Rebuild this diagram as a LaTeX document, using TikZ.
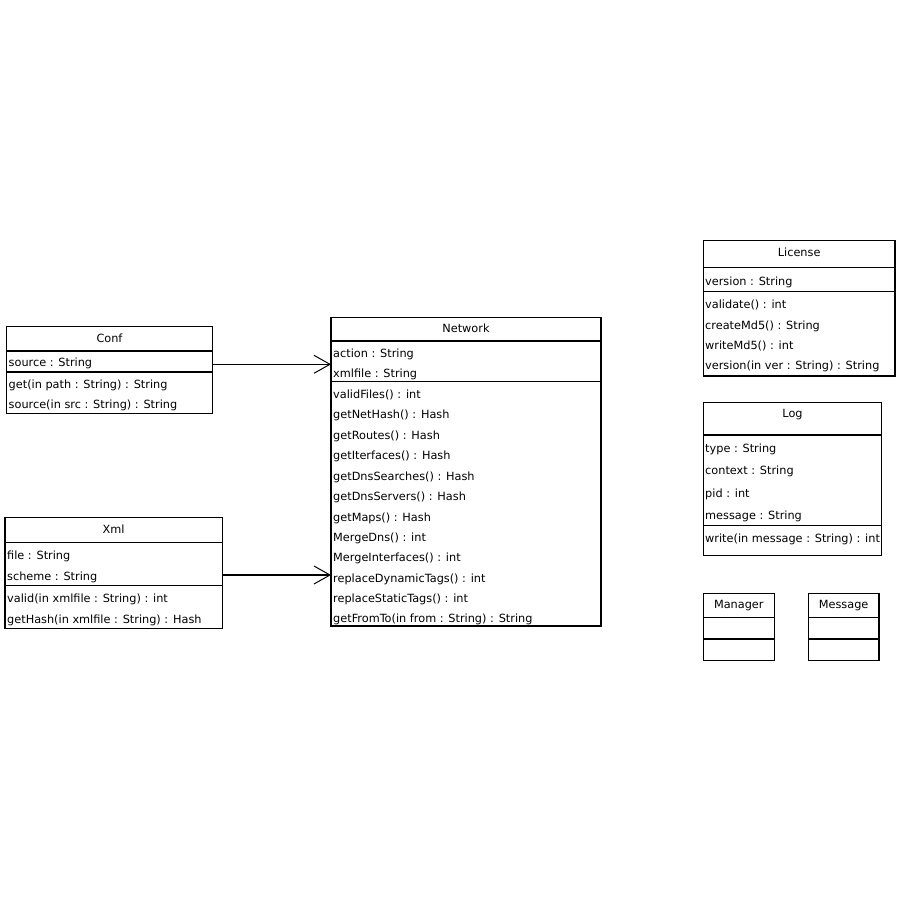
\documentclass[tikz,border=0pt]{standalone}
\usepackage{fontspec}
\setmainfont{DejaVu Sans}
\usepackage{tikz}
\usetikzlibrary{arrows.meta}

\begin{document}
\begin{tikzpicture}[x=1pt,y=-1pt,
  font=\fontsize{11.3}{13}\selectfont,
  classbox/.style={draw, line width=1.2pt, inner sep=0pt, outer sep=0pt},
  title/.style={inner sep=0pt},
  member/.style={anchor=mid west, inner sep=0pt, yshift=-1.5pt},
  assoc/.style={line width=1.1pt, -{Straight Barb[length=16pt,width=18pt,line width=1pt]}}]
\useasboundingbox (0,0) rectangle (900,900);
% classes
\node[classbox, minimum width=206pt, minimum height=86.8pt] (conf) at (109.5,369.9) {};
\node[classbox, minimum width=217.3pt, minimum height=111pt] (xml) at (113.65,572.8) {};
\node[classbox, minimum width=270pt, minimum height=308.7pt] (network) at (466,471.65) {};
\node[classbox, minimum width=191.7pt, minimum height=135.3pt] (license) at (799.15,308.35) {};
\node[classbox, minimum width=178.4pt, minimum height=153pt] (log) at (792.5,479.2) {};
\node[classbox, minimum width=71pt, minimum height=67.4pt] (manager) at (738.8,627) {};
\node[classbox, minimum width=70.7pt, minimum height=67.4pt] (message) at (843.65,627) {};
% compartments
\draw [line width=1.1pt] (conf.west |- 0,351) -- (conf.east |- 0,351);
\draw [line width=1.1pt] (conf.west |- 0,372) -- (conf.east |- 0,372);
\draw [line width=1.1pt] (xml.west |- 0,542.3) -- (xml.east |- 0,542.3);
\draw [line width=1.1pt] (xml.west |- 0,585.3) -- (xml.east |- 0,585.3);
\draw [line width=1.1pt] (network.west |- 0,341) -- (network.east |- 0,341);
\draw [line width=1.1pt] (network.west |- 0,381.7) -- (network.east |- 0,381.7);
\draw [line width=1.1pt] (license.west |- 0,267.7) -- (license.east |- 0,267.7);
\draw [line width=1.1pt] (license.west |- 0,291.7) -- (license.east |- 0,291.7);
\draw [line width=1.1pt] (log.west |- 0,435) -- (log.east |- 0,435);
\draw [line width=1.1pt] (log.west |- 0,525.7) -- (log.east |- 0,525.7);
\draw [line width=1.1pt] (manager.west |- 0,617.7) -- (manager.east |- 0,617.7);
\draw [line width=1.1pt] (manager.west |- 0,639) -- (manager.east |- 0,639);
\draw [line width=1.1pt] (message.west |- 0,617.7) -- (message.east |- 0,617.7);
\draw [line width=1.1pt] (message.west |- 0,639) -- (message.east |- 0,639);
% Conf
\node[title] (conf-name) at (109.5,338.5) {Conf};
\node[member] (conf-a1) at (8.5,362.5) {source : String};
\node[member] (conf-m1) at (8.5,384) {get(in path : String) : String};
\node[member] (conf-m2) at (8.5,404.5) {source(in src : String) : String};
% Xml
\node[title] (xml-name) at (113.65,529.5) {Xml};
\node[member] (xml-a1) at (7,555.5) {file : String};
\node[member] (xml-a2) at (7,576.5) {scheme : String};
\node[member] (xml-m1) at (7,598) {valid(in xmlfile : String) : int};
\node[member] (xml-m2) at (7,619.5) {getHash(in xmlfile : String) : Hash};
% Network
\node[title] (network-name) at (466,328.5) {Network};
\node[member] (network-a1) at (333,353) {action : String};
\node[member] (network-a2) at (333,373.5) {xmlfile : String};
\node[member] (network-m1) at (333,394) {validFiles() : int};
\node[member] (network-m2) at (333,414.5) {getNetHash() : Hash};
\node[member] (network-m3) at (333,435) {getRoutes() : Hash};
\node[member] (network-m4) at (333,455.5) {getIterfaces() : Hash};
\node[member] (network-m5) at (333,476) {getDnsSearches() : Hash};
\node[member] (network-m6) at (333,496.5) {getDnsServers() : Hash};
\node[member] (network-m7) at (333,517) {getMaps() : Hash};
\node[member] (network-m8) at (333,537) {MergeDns() : int};
\node[member] (network-m9) at (333,557.5) {MergeInterfaces() : int};
\node[member] (network-m10) at (333,578) {replaceDynamicTags() : int};
\node[member] (network-m11) at (333,598) {replaceStaticTags() : int};
\node[member] (network-m12) at (333,618.5) {getFromTo(in from : String) : String};
% License
\node[title] (license-name) at (799.15,252.5) {License};
\node[member] (license-a1) at (705,281) {version : String};
\node[member] (license-m1) at (705,304) {validate() : int};
\node[member] (license-m2) at (705,325) {createMd5() : String};
\node[member] (license-m3) at (705,345.5) {writeMd5() : int};
\node[member] (license-m4) at (705,365.5) {version(in ver : String) : String};
% Log
\node[title] (log-name) at (792.5,415) {Log};
\node[member] (log-a1) at (705,448) {type : String};
\node[member] (log-a2) at (705,470.5) {context : String};
\node[member] (log-a3) at (705,493) {pid : int};
\node[member] (log-a4) at (705,515.5) {message : String};
\node[member] (log-m1) at (705,538.5) {write(in message : String) : int};
% empty classes
\node[title] (manager-name) at (738.8,605.5) {Manager};
\node[title] (message-name) at (843.65,605.5) {Message};
% associations
\draw [assoc] (conf.east |- 0,364.3) -- (network.west |- 0,364.3);
\draw [assoc] (xml.east |- 0,575) -- (network.west |- 0,575);
\end{tikzpicture}
\end{document}
